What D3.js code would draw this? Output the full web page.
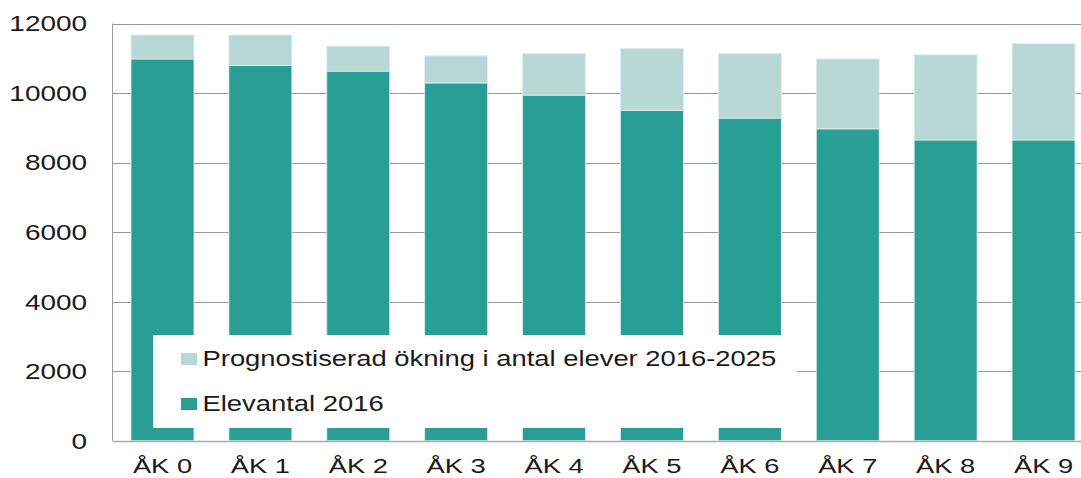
<!DOCTYPE html>
<html>
<head>
<meta charset="utf-8">
<script src="https://cdn.jsdelivr.net/npm/d3@7"></script>
<style>
  html, body { margin: 0; padding: 0; background: #fff; overflow: hidden; }
  svg { display: block; font-family: "Liberation Sans", Arial, sans-serif; }
</style>
</head>
<body>
<svg id="chart" width="1081" height="478"></svg>
<script>
const categories = ["ÅK 0", "ÅK 1", "ÅK 2", "ÅK 3", "ÅK 4", "ÅK 5", "ÅK 6", "ÅK 7", "ÅK 8", "ÅK 9"];
const elevantal2016 = [10980, 10790, 10630, 10290, 9940, 9500, 9280, 8970, 8650, 8650];
const prognosOkning = [690, 880, 720, 780, 1200, 1790, 1860, 2010, 2450, 2770];
const yTicks = [0, 2000, 4000, 6000, 8000, 10000, 12000];
const seriesNames = ["Prognostiserad ökning i antal elever 2016-2025", "Elevantal 2016"];

const colDark = "#299e94";
const colLight = "#b7d8d5";

const svg = d3.select("#chart");
const x = d3.scaleBand().domain(categories).range([113, 1093]).paddingInner(0.357).paddingOuter(0.184);
const y = d3.scaleLinear().domain([0, 12000]).range([440.7, 23.5]);

// gridlines
svg.append("g").selectAll("line").data(yTicks.filter(d => d > 0)).join("line")
  .attr("x1", 113).attr("x2", 1081)
  .attr("y1", d => Math.round(y(d)) + 0.5).attr("y2", d => Math.round(y(d)) + 0.5)
  .attr("stroke", "#9a9a9a").attr("stroke-width", 1);

// stacked bars
const rows = categories.map((c, i) => ({ cat: c, base: elevantal2016[i], inc: prognosOkning[i] }));
const stack = d3.stack().keys(["base", "inc"])(rows);
const colors = { base: colDark, inc: colLight };
svg.append("g").selectAll("g").data(stack).join("g")
  .attr("fill", d => colors[d.key])
  .selectAll("rect").data(d => d).join("rect")
  .attr("x", d => x(d.data.cat))
  .attr("width", x.bandwidth())
  .attr("y", d => y(d[1]))
  .attr("height", d => y(d[0]) - y(d[1]))
  .attr("stroke", "#dff0ee").attr("stroke-width", 0.8);

// axes lines
svg.append("line").attr("x1", 112.5).attr("x2", 112.5).attr("y1", y(12000)).attr("y2", y(0))
  .attr("stroke", "#9a9a9a");
svg.append("line").attr("x1", 112.5).attr("x2", 1081).attr("y1", Math.round(y(0)) + 0.5).attr("y2", Math.round(y(0)) + 0.5)
  .attr("stroke", "#aaaaaa").attr("stroke-width", 1.5);

// y tick labels (horizontally stretched like the reference)
svg.append("g").selectAll("text").data(yTicks).join("text")
  .attr("transform", d => `translate(87, ${y(d)}) scale(1.27, 1)`)
  .attr("dy", "0.36em")
  .attr("text-anchor", "end").attr("font-size", 22).attr("fill", "#1a1a1a")
  .text(d => d);

// x labels
svg.append("g").selectAll("text").data(categories).join("text")
  .attr("transform", d => `translate(${x(d) + x.bandwidth() / 2}, ${y(0) + 32.5}) scale(1.3, 1)`)
  .attr("text-anchor", "middle").attr("font-size", 21).attr("fill", "#1a1a1a")
  .text(d => d);

// legend
const lg = svg.append("g");
lg.append("rect").attr("x", 153).attr("y", 335).attr("width", 644).attr("height", 93).attr("fill", "#fff");
const legendItems = [
  { name: seriesNames[0], color: colLight },
  { name: seriesNames[1], color: colDark }
];
const li = lg.selectAll("g.item").data(legendItems).join("g").attr("class", "item")
  .attr("transform", (d, i) => `translate(181, ${366 + i * 45})`);
li.append("rect").attr("x", 0).attr("y", -13).attr("width", 16).attr("height", 12).attr("fill", d => d.color);
li.append("text").attr("transform", "translate(21.5, 0) scale(1.245, 1)")
  .attr("font-size", 22).attr("fill", "#1a1a1a")
  .text(d => d.name);
</script>
</body>
</html>
